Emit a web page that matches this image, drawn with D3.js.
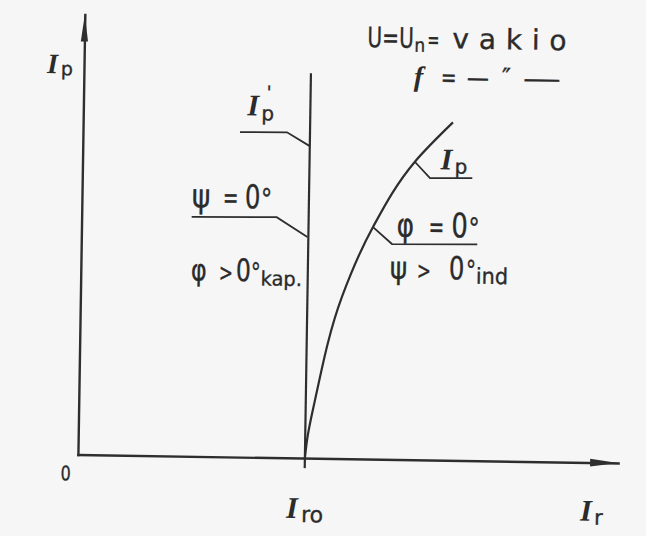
<!DOCTYPE html>
<html>
<head>
<meta charset="utf-8">
<script src="https://cdn.jsdelivr.net/npm/d3@7"></script>
<style>
  html, body { margin: 0; padding: 0; background: #f6f6f6; }
  svg { display: block; }
  text { fill: #2b2b2b; stroke: #2b2b2b; stroke-width: 0.35; font-family: "DejaVu Sans", sans-serif; }
  .ital { font-family: "Liberation Serif", serif; font-style: italic; font-weight: bold; stroke-width: 0; }
</style>
</head>
<body>
<script>
// Characteristic of an induction machine: active current Ip versus reactive current Ir
// at constant voltage and frequency.

// Ir axis: 0 at the origin, Ir0 = 1 (no-load magnetising current)
const irDomain = [0, 1];
const irAxisEnd = 2.38;
const IR0 = 1;

// Ip axis: 1 = top of the Ip' line
const ipDomain = [0, 1];
const ipAxisEnd = 1.143;

// Ip' line (ψ = 0°, capacitive operation): vertical at Ir = Ir0
const ipPrimeIr = [IR0, IR0];
const ipPrimeIp = [-0.026, 1.0];

// Ip curve (φ = 0°, inductive operation)
const curveIr = [1.0, 1.009, 1.0405, 1.152, 1.284, 1.465, 1.629];
const curveIp = [0.0, 0.05, 0.151, 0.42, 0.603, 0.775, 0.878];

const W = 646, H = 536;
const svg = d3.select("body").append("svg").attr("width", W).attr("height", H);
svg.append("rect").attr("width", W).attr("height", H).attr("fill", "#f6f6f6");

// the printed figure sits slightly skewed on the page
const g = svg.append("g").attr("transform", "rotate(0.9,300,260)");

const x = d3.scaleLinear().domain(irDomain).range([81, 308]);
const y = d3.scaleLinear().domain(ipDomain).range([458, 73]);

const ink = "#2e2e2e";

// axes (no ticks)
const xAxisScale = x.copy().domain([0, irAxisEnd]).range([x(0), x(irAxisEnd)]);
const yAxisScale = y.copy().domain([0, ipAxisEnd]).range([y(0), y(ipAxisEnd)]);

const xAxis = g.append("g").attr("transform", `translate(0,${y(0)})`)
  .call(d3.axisBottom(xAxisScale).tickValues([]).tickSizeOuter(0));
const yAxis = g.append("g").attr("transform", `translate(${x(0)},0)`)
  .call(d3.axisLeft(yAxisScale).tickValues([]).tickSizeOuter(0));
[xAxis, yAxis].forEach(a => a.select(".domain")
  .attr("stroke", ink).attr("stroke-width", 2.4).attr("stroke-linecap", "square"));

// arrowheads
const xe = x(irAxisEnd), y0 = y(0);
g.append("path")
  .attr("d", `M${xe},${y0} L${xe - 28},${y0 - 3.8} L${xe - 28},${y0 + 3.8} Z`)
  .attr("fill", ink);
const yt = y(ipAxisEnd), x0 = x(0);
g.append("path")
  .attr("d", `M${x0},${yt} L${x0 - 3.6},${yt + 27} L${x0 + 3.6},${yt + 27} Z`)
  .attr("fill", ink);

// Ip' line
const line = d3.line().x(d => x(d[0])).y(d => y(d[1]));
g.append("path")
  .datum(d3.zip(ipPrimeIr, ipPrimeIp))
  .attr("d", line)
  .attr("fill", "none").attr("stroke", ink).attr("stroke-width", 2.2);

// Ip curve
g.append("path")
  .datum(d3.zip(curveIr, curveIp))
  .attr("d", line.curve(d3.curveMonotoneY))
  .attr("fill", "none").attr("stroke", ink).attr("stroke-width", 2.2);

// leader lines
const leaders = [
  [[238, 133], [285, 132.5], [308, 146]],
  [[191, 218.5], [276, 217.5], [307, 237]],
  [[413.5, 160.2], [428.7, 176], [471, 175.5]],
  [[372.5, 226], [391.7, 242.6], [477, 241.5]]
];
g.selectAll(".leader").data(leaders).join("path")
  .attr("class", "leader")
  .attr("d", d3.line())
  .attr("fill", "none").attr("stroke", ink).attr("stroke-width", 1.8);

// one run of lettering, optionally narrowed horizontally
function run(px, py, str, size, sx, cls, ls) {
  const t = g.append("g").attr("transform", `translate(${px},${py}) scale(${sx || 1},1)`)
    .append("text").attr("font-size", size).text(str);
  if (cls) t.attr("class", cls);
  if (ls) t.attr("letter-spacing", ls);
  return t;
}

// axis labels
run(44, 77, "I", 28, 1, "ital");
run(58, 79, "p", 19);
run(64, 484, "0", 20, 0.8);
run(290, 518, "I", 30, 1, "ital");
run(305, 522, "ro", 22);
run(584, 516, "I", 30, 1, "ital");
run(598, 520, "r", 21);

// curve labels
run(245, 116, "I", 30, 1, "ital");
run(259, 121, "p", 20);
run(264, 99, "'", 18);
run(439, 167, "I", 30, 1, "ital");
run(453, 171, "p", 20);

// ψ = 0°
run(191, 209, "ψ", 33, 0.85);
run(222, 209, "=", 30, 0.62);
run(244, 209, "0", 33, 0.74);
run(260, 209, "°", 28, 0.8);
// φ > 0° kap.
run(191, 282, "φ", 30, 0.8);
run(219, 282, ">", 24, 0.7);
run(236, 282, "0", 31, 0.76);
run(251, 282, "°", 26, 0.75);
run(261, 286, "kap.", 20, 0.97);
// φ = 0°
run(396, 235, "φ", 33, 0.8);
run(428, 235, "=", 30, 0.62);
run(451, 235, "0", 34, 0.76);
run(468, 235, "°", 28, 0.8);
// ψ > 0° ind
run(390, 277, "ψ", 31, 0.85);
run(417, 277, ">", 24, 0.7);
run(449, 277, "0", 32, 0.76);
run(466, 277, "°", 27, 0.75);
run(476, 281, "ind", 22, 0.95);

// operating conditions
run(364, 46, "U=U", 28, 0.72);
run(411, 50, "n", 19, 0.9);
run(424, 46, "=", 24, 0.6);
g.append("text").attr("x", 449).attr("y", 46).attr("font-size", 28)
  .attr("textLength", 114).attr("lengthAdjust", "spacing").text("vakio");
run(411, 84, "f", 28, 1, "ital");
run(438, 84, "=", 26, 0.72);
run(464, 84, "—", 26, 0.85);
run(499, 82, "″", 24);
run(520, 84, "—", 26, 1.46);
</script>
</body>
</html>
